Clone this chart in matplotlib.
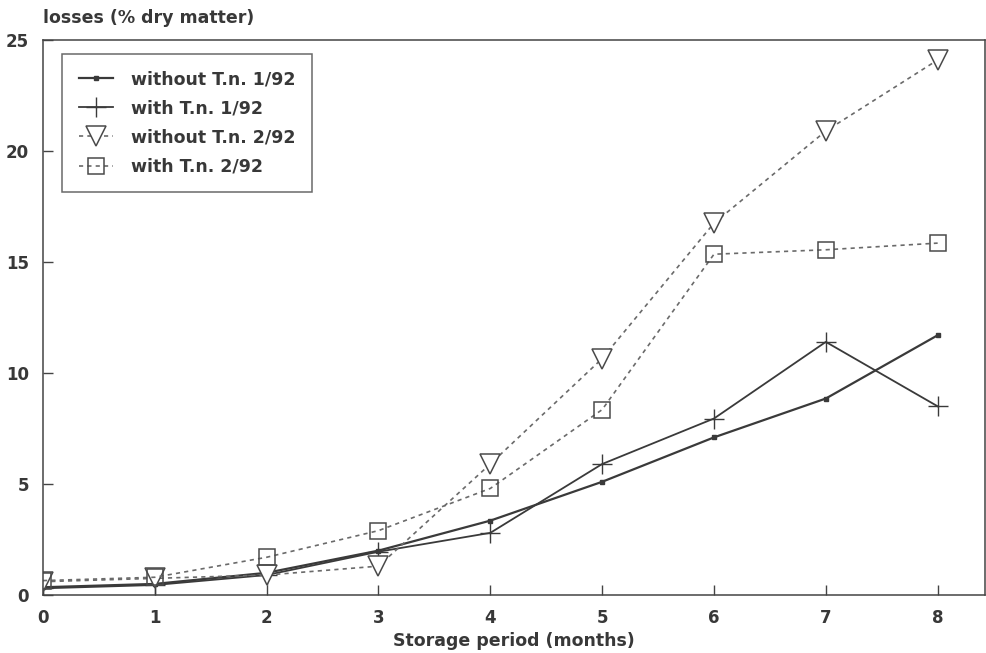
import matplotlib.pyplot as plt

months = [0, 1, 2, 3, 4, 5, 6, 7, 8]

without_tn_1 = [0.35, 0.5, 1.0, 2.0, 3.35, 5.1, 7.1, 8.85, 11.7]
with_tn_1 = [0.3, 0.45, 0.9, 1.95, 2.8, 5.9, 7.95, 11.4, 8.5]
without_tn_2 = [0.6, 0.75, 0.9, 1.3, 5.9, 10.65, 16.75, 20.9, 24.1]
with_tn_2 = [0.65, 0.8, 1.7, 2.9, 4.8, 8.35, 15.35, 15.55, 15.85]

labels = ["without T.n. 1/92", "with T.n. 1/92", "without T.n. 2/92", "with T.n. 2/92"]
y_ticks = [0, 5, 10, 15, 20, 25]

plt.rcParams["font.family"] = ["DejaVu Sans"]
plt.rcParams["font.weight"] = "bold"

solid = "#3a3a3a"
dashed = "#6a6a6a"
text_color = "#383838"

fig = plt.figure(figsize=(9.86, 6.53), dpi=100)
ax = fig.add_axes([0.0436, 0.0888, 0.955, 0.85])

ax.plot(months, without_tn_1, color=solid, lw=1.6, marker="s", ms=3.5,
        label=labels[0])
ax.plot(months, with_tn_1, color=solid, lw=1.3, marker="+", ms=15,
        mew=1.0, label=labels[1])
ax.plot(months, without_tn_2, color=dashed, lw=1.2, ls=(0, (2.5, 2.5)),
        marker="v", ms=14, mfc="white", mec="#4a4a4a", mew=1.1,
        label=labels[2])
ax.plot(months, with_tn_2, color=dashed, lw=1.2, ls=(0, (2.5, 2.5)),
        marker="s", ms=12, mfc="none", mec="#4a4a4a", mew=1.1,
        label=labels[3])

ax.set_xlim(0, 8.42)
ax.set_ylim(0, 25)
ax.set_xticks(months)
ax.set_yticks(y_ticks)
ax.tick_params(direction="in", length=7, width=1, colors="#444444",
               labelcolor=text_color, labelsize=12)
ax.tick_params(axis="x", pad=10)
ax.tick_params(axis="y", pad=10)

for side in ["left", "bottom", "top", "right"]:
    ax.spines[side].set_color("#444444")
    ax.spines[side].set_linewidth(1.1)

ax.set_xlabel("Storage period (months)", fontsize=12.5, color=text_color,
              fontweight="bold", labelpad=4)
fig.text(0.0436, 0.973, "losses (% dry matter)", fontsize=12.5,
         color=text_color, ha="left", va="center")

leg = ax.legend(loc="upper left", bbox_to_anchor=(0.0202, 0.975),
                fontsize=12.5, frameon=True, fancybox=False,
                edgecolor="#444444", handlelength=2.0, handletextpad=1.0,
                labelspacing=0.64, borderpad=0.95, borderaxespad=0)
leg.get_frame().set_linewidth(1.1)
for t in leg.get_texts():
    t.set_color(text_color)

fig.savefig("out.png", dpi=100)
